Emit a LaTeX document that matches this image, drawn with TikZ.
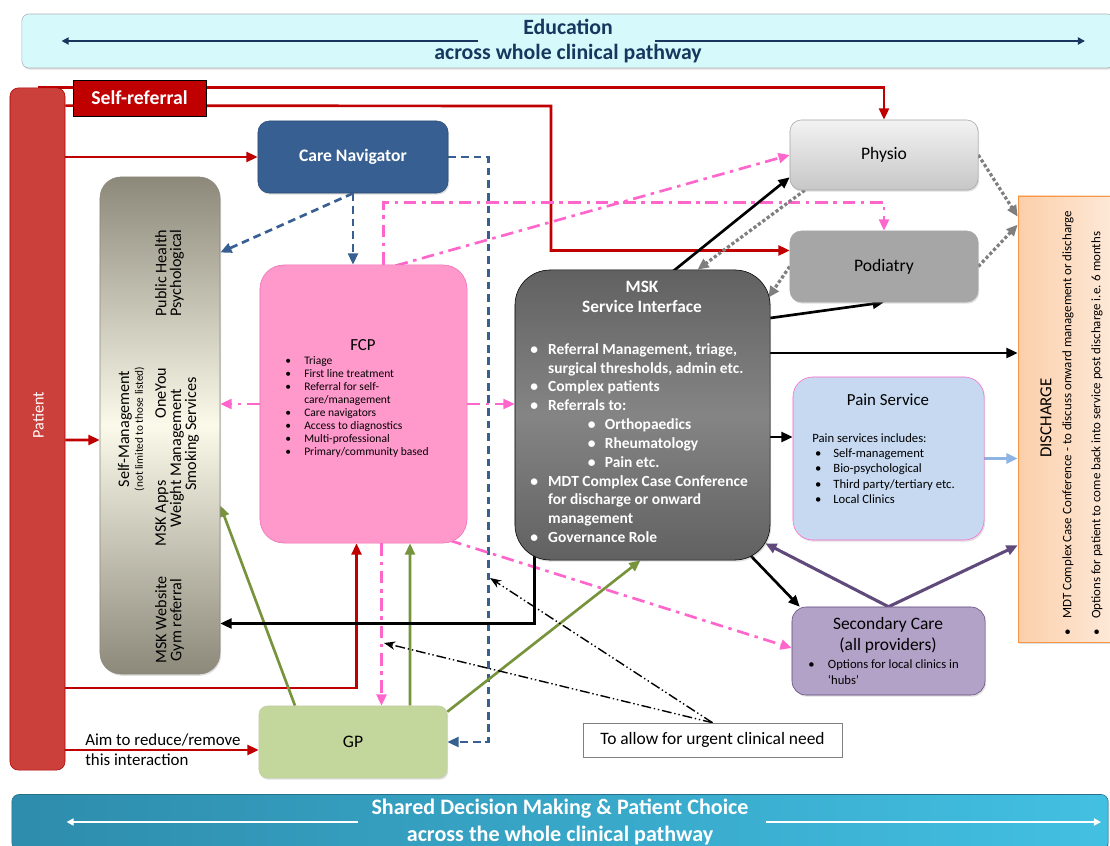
\documentclass[tikz,border=0pt]{standalone}
\usepackage{fontspec}
\setmainfont{Carlito}
\usepackage{tikz}
\usetikzlibrary{arrows.meta,positioning,calc,backgrounds,shadows}
\definecolor{patientred}{RGB}{204,64,60}
\definecolor{referred}{RGB}{192,0,0}
\definecolor{navyblue}{RGB}{55,95,146}
\definecolor{fcppink}{RGB}{255,153,204}
\definecolor{fcpline}{RGB}{240,110,180}
\definecolor{pinkline}{RGB}{255,102,204}
\definecolor{gpfill}{RGB}{195,214,155}
\definecolor{gpline}{RGB}{119,147,60}
\definecolor{dotgray}{RGB}{127,127,127}
\definecolor{painblue}{RGB}{198,217,241}
\definecolor{lightline}{RGB}{142,180,227}
\definecolor{secpurple}{RGB}{179,162,199}
\definecolor{purpleline}{RGB}{96,74,123}
\definecolor{dischargefill}{RGB}{252,207,170}
\definecolor{dischargeline}{RGB}{247,150,70}
\definecolor{educyan}{RGB}{214,250,252}
\definecolor{edutext}{RGB}{23,55,94}
\definecolor{sdmleft}{RGB}{46,140,172}
\definecolor{sdmright}{RGB}{66,192,226}
\definecolor{smend}{RGB}{140,137,122}
\definecolor{smmid}{RGB}{251,249,234}
\newcommand{\setfs}[2]{\fontsize{#1}{#2}\selectfont}
\newcommand{\bul}[1][12.75pt]{\makebox[#1][l]{\textbullet}}

\begin{document}
\begin{tikzpicture}[x=0.025cm, y=-0.025cm,
  lift/.style={drop shadow={opacity=.25, shadow xshift=.8pt, shadow yshift=-1.2pt}},
  box/.style={draw, inner sep=0pt, align=center, font=\setfs{12.5}{15}},
  banner/.style={box, rounded corners=5pt, lift},
  smtext/.style={rotate=90, inner sep=0pt, align=center, font=\setfs{11.5}{10.6}},
  listtext/.style={inner sep=0pt, align=left, font=\setfs{8.2}{9.3}},
  flow/.style={line width=1.9pt, -{Triangle[length=8pt, width=7pt]}},
  redarrow/.style={flow, draw=referred},
  bluedash/.style={flow, draw=navyblue, dash pattern=on 5.5pt off 3.5pt},
  pinkdash/.style={flow, draw=pinkline, dash pattern=on 9pt off 4pt on 2.5pt off 4pt},
  greenarrow/.style={flow, draw=gpline},
  blackarrow/.style={flow, draw=black},
  grayarrow/.style={flow, draw=dotgray, line width=2.3pt, dash pattern=on 2.3pt off 1.6pt},
  lightarrow/.style={flow, draw=lightline, line width=2.2pt},
  purplearrow/.style={flow, draw=purpleline, line width=2.2pt},
  urgentarrow/.style={draw=black, line width=1pt, dash pattern=on 7pt off 2pt on 1pt off 2pt on 1pt off 2pt, -{Stealth[length=8pt, width=6pt]}},
  bannerarrow/.style={line width=1.7pt, -{Triangle[length=5pt, width=5pt]}}
]
\useasboundingbox (0,0) rectangle (1110,846);
\clip (0,0) rectangle (1110,846);

% banners
\node[banner, fill=educyan, draw=black!30, text=edutext, font=\setfs{15.5}{18.4}\bfseries,
  minimum width=27.3cm, minimum height=1.35cm] (edu) at (568,41) {Education\\across whole clinical pathway};
\node[banner, left color=sdmleft, right color=sdmright, draw=sdmleft!80!black, text=white,
  font=\setfs{15.7}{19}\bfseries, minimum width=27.4cm, minimum height=1.375cm] (sdm) at (560,822)
  {Shared Decision Making \& Patient Choice\\across the whole clinical pathway};
\draw[bannerarrow, edutext] ($(edu.center)+(-90,0)$) -- ($(edu.west)+(40,0)$);
\draw[bannerarrow, edutext] ($(edu.center)+(87,0)$) -- ($(edu.center)+(517,0)$);
\draw[bannerarrow, white] ($(sdm.center)+(-202,0)$) -- ($(sdm.west)+(55,0)$);
\draw[bannerarrow, white] ($(sdm.center)+(206,0)$) -- ($(sdm.center)+(541,0)$);

% patient and self-referral
\node[box, fill=patientred, draw=referred!90!black, rounded corners=6pt,
  minimum width=1.375cm, minimum height=17.05cm] (patient) at (37.5,429) {};
\node[rotate=90, text=white, font=\setfs{11.5}{14}] (patientlabel) at (38,415) {Patient};
\node[box, fill=referred, text=white, font=\setfs{14}{16}\bfseries,
  minimum width=3.325cm, minimum height=0.9cm] (selfref) at (139.5,98) {Self-referral};

% care navigator
\node[box, fill=navyblue, draw=navyblue!80!black, rounded corners=8pt, text=white,
  font=\setfs{12.5}{15}\bfseries, minimum width=4.75cm, minimum height=1.8cm, lift] (cn) at (353,157) {Care Navigator};

% self-management
\node[box, top color=smend, bottom color=smend, middle color=smmid, draw=smend, rounded corners=15pt,
  minimum width=3cm, minimum height=12.425cm, lift] (sm) at (160,425.5) {};
\node[smtext] (smhealth) at (169.5,273) {Public Health\\Psychological};
\node[smtext] (smtitle) at (125,429) {Self-Management};
\node[smtext, font=\setfs{8}{9}] (smnote) at (139.5,429) {(not limited to those listed)};
\node[smtext] (smapps) at (162,457) {MSK Apps\hspace{44pt}OneYou};
\node[smtext] (smweight) at (177,458) {Weight Management};
\node[smtext] (smsmoke) at (192,434) {Smoking Services};
\node[smtext] (smweb) at (169.5,620) {MSK Website\\Gym referral};

% FCP
\node[box, fill=fcppink, draw=fcpline, rounded corners=17pt,
  minimum width=5.175cm, minimum height=6.95cm] (fcp) at (363.5,404) {};
\node[font=\setfs{12}{14}] (fcptitle) at (363,345) {FCP};
\node[listtext, anchor=west] (fcplist) at (285,407) {\bul[13.5pt]Triage\\
  \bul[13.5pt]First line treatment\\
  \bul[13.5pt]Referral for self-\\
  \hspace*{13.5pt}care/management\\
  \bul[13.5pt]Care navigators\\
  \bul[13.5pt]Access to diagnostics\\
  \bul[13.5pt]Multi-professional\\
  \bul[13.5pt]Primary/community based};

% MSK service interface
\node[box, top color=black!62, bottom color=black!62, middle color=black!48, draw=black, rounded corners=25pt,
  minimum width=6.375cm, minimum height=7.25cm, lift] (msk) at (642.5,415) {};
\node[text=white, font=\setfs{12.3}{14.2}\bfseries, align=center] (msktitle) at (642,297) {MSK\\Service Interface};
\node[listtext, text=white, font=\setfs{11}{13.4}\bfseries, anchor=west] (msklist) at (530,443) {\bul Referral Management, triage,\\
  \hspace*{12.75pt}surgical thresholds, admin etc.\\
  \bul Complex patients\\
  \bul Referrals to:\\
  \hspace*{41pt}\bul[12pt]Orthopaedics\\
  \hspace*{41pt}\bul[12pt]Rheumatology\\
  \hspace*{41pt}\bul[12pt]Pain etc.\\
  \bul MDT Complex Case Conference\\
  \hspace*{12.75pt}for discharge or onward\\
  \hspace*{12.75pt}management\\
  \bul Governance Role};

% physio and podiatry
\node[box, top color=black!5, bottom color=black!22, draw=black!35, rounded corners=8pt,
  minimum width=4.7cm, minimum height=1.75cm, lift] (physio) at (884,155) {Physio};
\node[box, fill=black!35, draw=black!35, rounded corners=8pt,
  minimum width=4.7cm, minimum height=1.775cm, lift] (podiatry) at (884,266.5) {Podiatry};

% pain service
\node[box, fill=painblue, draw=pinkline, rounded corners=14pt,
  minimum width=4.775cm, minimum height=4.075cm, lift] (pain) at (888.5,458.5) {};
\node[font=\setfs{12}{14}] (paintitle) at (888,400) {Pain Service};
\node[listtext, font=\setfs{9}{10.8}, anchor=west] (painlist) at (812,468.5) {Pain services includes:\\
  \hspace*{2pt}\bul[13pt]Self-management\\
  \hspace*{2pt}\bul[13pt]Bio-psychological\\
  \hspace*{2pt}\bul[13pt]Third party/tertiary etc.\\
  \hspace*{2pt}\bul[13pt]Local Clinics};

% secondary care
\node[box, fill=secpurple, draw=purpleline, rounded corners=10pt,
  minimum width=4.825cm, minimum height=2.2cm, lift] (sec) at (888.5,651) {};
\node[font=\setfs{12.4}{14.9}, align=center] (sectitle) at (888,635.5) {Secondary Care\\(all providers)};
\node[listtext, font=\setfs{9}{11.3}, anchor=west] (seclist) at (808,672) {\bul[14pt]Options for local clinics in\\
  \hspace*{14pt}‘hubs’};

% discharge
\node[box, left color=dischargefill, right color=dischargefill!45!white, draw=dischargeline,
  minimum width=2.4cm, minimum height=11.15cm, lift] (dis) at (1066,419) {};
\node[rotate=90, font=\setfs{12}{14}] (distitle) at (1046,418) {DISCHARGE};
\node[rotate=90, anchor=west, inner sep=0pt, font=\setfs{9.2}{11}] (disone) at (1068,636)
  {\bul[12pt]MDT Complex Case Conference - to discuss onward management or discharge};
\node[rotate=90, anchor=west, inner sep=0pt, font=\setfs{9.2}{11}] (distwo) at (1097,636)
  {\bul[12pt]Options for patient to come back into service post discharge i.e. 6 months};

% GP and notes
\node[box, fill=gpfill, draw=gpline!45, rounded corners=6pt,
  minimum width=4.7cm, minimum height=1.8cm, lift] (gp) at (353,742) {GP};
\node[box, fill=white, draw=black!50, font=\setfs{12.4}{14},
  minimum width=6.475cm, minimum height=0.85cm] (urgent) at (712.5,740) {To allow for urgent clinical need};
\node[inner sep=0pt, anchor=west, align=left, font=\setfs{12}{14.2}] (aim) at (85,750) {Aim to reduce/remove\\this interaction};
\coordinate (urgtop) at (490,578);
\coordinate (urglow) at (384,643);

\begin{pgfonlayer}{background}
% patient routes
\draw[redarrow] (patient.north) -| (physio.north);
\draw[redarrow] ($(patient.north east)+(0,18)$) -- (551,106) |- ($(podiatry.west)+(0,-16)$);
\draw[redarrow] (patient.east |- cn.west) -- (cn.west);
\draw[redarrow] ($(patient.east)+(0,11)$) -- ($(sm.west)+(0,14.5)$);
\draw[redarrow] ($(patient.east)+(0,259)$) -| ($(fcp.south)+(-7,0)$);
\draw[redarrow] ($(patient.east |- gp.west)+(0,8)$) -- ($(gp.west)+(0,8)$);
% care navigator
\draw[bluedash] (cn.south) -- (cn.south |- fcp.north);
\draw[bluedash] (cn.south) -- ($(sm.east)+(0,-173)$);
\draw[bluedash] (cn.east) -- ++(40,0) |- (gp.east);
% FCP
\draw[pinkdash] ($(fcp.north)+(20,0)$) |- ($(podiatry.north)+(0,-28)$) -- (podiatry.north);
\draw[pinkdash] ($(fcp.north)+(32,1)$) -- (physio.west);
\draw[pinkdash] (fcp.west) -- (sm.east |- fcp.west);
\draw[pinkdash] (fcp.east) -- (msk.west |- fcp.east);
\draw[pinkdash] ($(fcp.south)+(18,0)$) -- ($(gp.north)+(28.5,0)$);
\draw[pinkdash] ($(fcp.south east)+(-18,-3)$) -- ($(sec.west)+(0,-3)$);
% GP
\draw[greenarrow] ($(gp.north)+(-58,0)$) -- ($(sm.east)+(0,80)$);
\draw[greenarrow] ($(gp.north)+(57,0)$) -- ($(fcp.south)+(46.5,0)$);
\draw[greenarrow] ($(gp.north east)+(0,6)$) -- ($(msk.south)+(-2,0)$);
% MSK
\draw[blackarrow] ($(msk.south west)+(20,-10)$) |- ($(sm.east)+(0,198)$);
\draw[blackarrow] ($(msk.north)+(30,2)$) -- ($(physio.south west)+(0,-13)$);
\draw[blackarrow] ($(msk.east)+(0,-97)$) -- (podiatry.south);
\draw[blackarrow] ($(msk.east)+(0,-62)$) -- ($(dis.west)+(0,-66)$);
\draw[blackarrow] ($(msk.east)+(0,22)$) -- ($(pain.west)+(0,-21.5)$);
\draw[blackarrow] ($(msk.south east)+(-20,-5)$) -- ($(sec.north west)+(8,0)$);
% physio and podiatry
\draw[grayarrow] ($(physio.south west)+(15,0)$) -- ($(msk.north)+(55,0)$);
\draw[grayarrow] (podiatry.west) -- ($(msk.north east)+(-2,28)$);
\draw[grayarrow] (physio.east) -- ($(dis.north west)+(0,21)$);
\draw[grayarrow] (podiatry.east) -- ($(dis.north west)+(0,29)$);
% pain and secondary care
\draw[lightarrow] (pain.east) -- (dis.west |- pain.east);
\draw[purplearrow] (sec.north) -- ($(msk.south east)+(-5,-17)$);
\draw[purplearrow] (sec.north) -- ($(dis.south west)+(0,-97)$);
% urgent need
\draw[urgentarrow] (urgent.north) -- (urgtop);
\draw[urgentarrow] (urgent.north) -- (urglow);
\end{pgfonlayer}
\end{tikzpicture}
\end{document}
